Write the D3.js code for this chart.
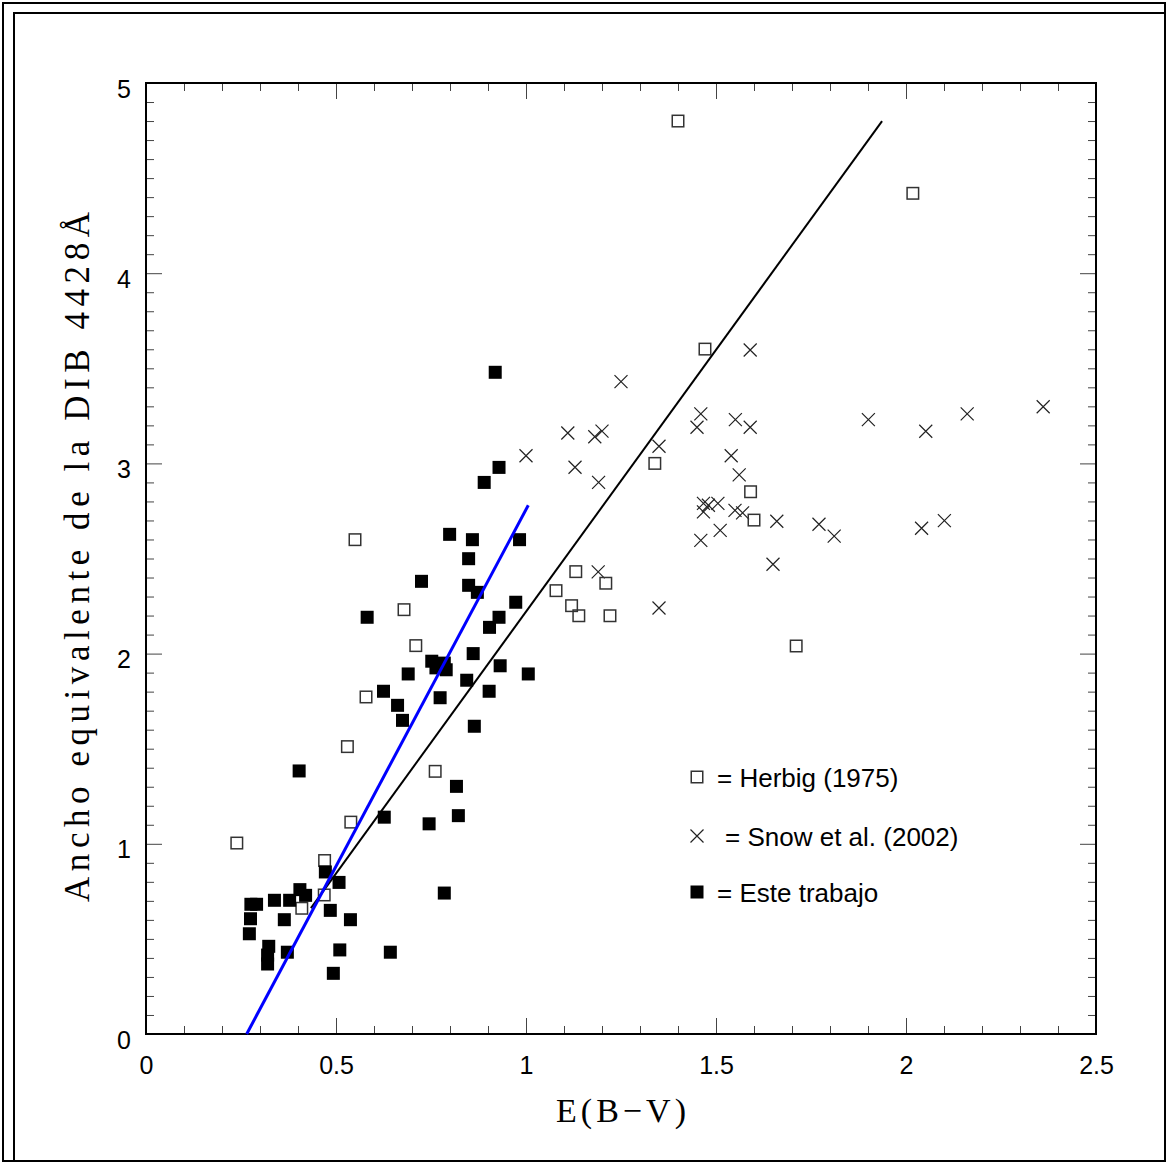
<!DOCTYPE html>
<html><head><meta charset="utf-8">
<script src="https://cdn.jsdelivr.net/npm/d3@7"></script>
<style>body{margin:0;background:#fff}svg{display:block}</style>
</head><body>
<svg id="c" width="1170" height="1163"></svg>
<script>
// ---- data ----
const herbig = [[0.239,1.004],[0.41,0.661],[0.469,0.731],[0.47,0.912],[0.539,1.114],[0.53,1.511],[0.579,1.772],[0.55,2.599],[0.679,2.231],[0.71,2.042],[0.761,1.381],[1.079,2.331],[1.12,2.252],[1.131,2.431],[1.139,2.199],[1.21,2.37],[1.221,2.199],[1.339,3.0],[1.4,4.8],[1.471,3.601],[1.591,2.851],[1.6,2.702],[1.711,2.04],[2.018,4.42]];
const snow = [[1.0,3.04],[1.11,3.16],[1.129,2.98],[1.181,3.14],[1.2,3.17],[1.191,2.9],[1.25,3.43],[1.19,2.43],[1.35,3.09],[1.35,2.24],[1.45,3.19],[1.46,3.26],[1.46,2.595],[1.467,2.79],[1.48,2.78],[1.505,2.79],[1.467,2.745],[1.511,2.648],[1.54,3.04],[1.551,3.23],[1.561,2.94],[1.55,2.753],[1.57,2.74],[1.59,3.19],[1.59,3.596],[1.66,2.696],[1.65,2.47],[1.771,2.68],[1.811,2.618],[1.901,3.23],[2.041,2.659],[2.052,3.169],[2.101,2.699],[2.161,3.26],[2.361,3.298]];
const esteTrabajo = [[0.272,0.527],[0.275,0.606],[0.276,0.682],[0.291,0.682],[0.323,0.461],[0.32,0.415],[0.32,0.368],[0.338,0.703],[0.364,0.601],[0.372,0.43],[0.378,0.703],[0.405,0.759],[0.42,0.729],[0.403,1.383],[0.472,0.852],[0.485,0.65],[0.493,0.319],[0.508,0.797],[0.51,0.442],[0.538,0.601],[0.627,1.14],[0.643,0.43],[0.745,1.105],[0.785,0.741],[0.817,1.302],[0.822,1.148],[0.582,2.191],[0.625,1.802],[0.662,1.728],[0.675,1.649],[0.69,1.893],[0.725,2.38],[0.752,1.96],[0.785,1.95],[0.763,1.925],[0.79,1.915],[0.774,1.768],[0.799,2.627],[0.844,1.86],[0.849,2.499],[0.849,2.359],[0.859,2.599],[0.861,2.0],[0.864,1.618],[0.872,2.322],[0.89,2.9],[0.903,1.802],[0.904,2.138],[0.919,3.479],[0.929,2.979],[0.929,2.191],[0.932,1.936],[0.973,2.27],[0.983,2.599],[1.006,1.893]];
const fitBlue = [[0.265,0],[1.006,2.78]];
const fitBlack = [[0.434,0.662],[1.937,4.8]];
const xTicksMajor = [0,0.5,1,1.5,2,2.5];
const xTickLabels = ["0","0.5","1","1.5","2","2.5"];
const yTicksMajor = [0,1,2,3,4,5];
const yTickLabels = ["0","1","2","3","4","5"];
const legendLabels = ["= Herbig (1975)","= Snow et al. (2002)","= Este trabajo"];
const xTitle = "E(B\u2212V)";
const yTitle = "Ancho equivalente de la DIB 4428\u00C5";

// ---- layout ----
const svg = d3.select("#c");
const L=146, R=1096, T=83, B=1034;
const x = d3.scaleLinear().domain([0,2.5]).range([L,R]);
const y = d3.scaleLinear().domain([0,5]).range([B,T]);

// frame
svg.append("rect").attr("x",3).attr("y",3).attr("width",1162).attr("height",1158)
  .attr("fill","none").attr("stroke","#000").attr("stroke-width",2);
svg.append("path").attr("d","M14,1162V13H1166").attr("fill","none").attr("stroke","#000").attr("stroke-width",2);

const minorX = d3.range(0,26).map(i=>i/10).filter(v=>Math.abs(v*2-Math.round(v*2))>1e-6);
const minorY = d3.range(0,51).map(i=>i/10).filter(v=>Math.abs(v-Math.round(v))>1e-6);
const fontS = "'Liberation Sans', Arial, sans-serif";
const fontT = "'Liberation Serif','DejaVu Serif',serif";

function styleAxis(g){
  g.select(".domain").remove();
  g.selectAll(".tick line").attr("stroke","#444").attr("stroke-width",1);
  g.selectAll(".tick text").attr("font-family",fontS).attr("font-size",25).attr("fill","#000");
}
// bottom
svg.append("g").attr("transform",`translate(0,${B})`)
  .call(d3.axisBottom(x).tickValues(minorX).tickSizeInner(-8).tickSizeOuter(0).tickFormat("")).call(styleAxis);
svg.append("g").attr("transform",`translate(0,${B})`)
  .call(d3.axisBottom(x).tickValues(xTicksMajor).tickSizeInner(-16).tickSizeOuter(0).tickPadding(22)
    .tickFormat((d,i)=>xTickLabels[i])).call(styleAxis);
// top
svg.append("g").attr("transform",`translate(0,${T})`)
  .call(d3.axisTop(x).tickValues(minorX).tickSizeInner(-8).tickSizeOuter(0).tickFormat("")).call(styleAxis);
svg.append("g").attr("transform",`translate(0,${T})`)
  .call(d3.axisTop(x).tickValues(xTicksMajor).tickSizeInner(-16).tickSizeOuter(0).tickFormat("")).call(styleAxis);
// left
svg.append("g").attr("transform",`translate(${L},0)`)
  .call(d3.axisLeft(y).tickValues(minorY).tickSizeInner(-8).tickSizeOuter(0).tickFormat("")).call(styleAxis);
const gl = svg.append("g").attr("transform",`translate(${L},0)`)
  .call(d3.axisLeft(y).tickValues(yTicksMajor).tickSizeInner(-16).tickSizeOuter(0).tickPadding(15)
    .tickFormat((d,i)=>yTickLabels[i])).call(styleAxis);
gl.selectAll(".tick text").attr("dy","0.56em");
// right
svg.append("g").attr("transform",`translate(${R},0)`)
  .call(d3.axisRight(y).tickValues(minorY).tickSizeInner(-8).tickSizeOuter(0).tickFormat("")).call(styleAxis);
svg.append("g").attr("transform",`translate(${R},0)`)
  .call(d3.axisRight(y).tickValues(yTicksMajor).tickSizeInner(-16).tickSizeOuter(0).tickFormat("")).call(styleAxis);

// plot box
svg.append("rect").attr("x",L).attr("y",T).attr("width",R-L).attr("height",B-T)
  .attr("fill","none").attr("stroke","#000").attr("stroke-width",2);

// markers
const S=13;
function openSq(g,cx,cy){ g.append("rect").attr("x",cx-S/2+0.75).attr("y",cy-S/2+0.75).attr("width",S-1.5).attr("height",S-1.5)
  .attr("fill","none").attr("stroke","#333").attr("stroke-width",1.5); }
function fillSq(g,cx,cy){ g.append("rect").attr("x",cx-S/2).attr("y",cy-S/2).attr("width",S).attr("height",S).attr("fill","#000"); }
function cross(g,cx,cy){ const h=6.5; g.append("path").attr("d",`M${cx-h},${cy-h}L${cx+h},${cy+h}M${cx-h},${cy+h}L${cx+h},${cy-h}`)
  .attr("stroke","#222").attr("stroke-width",1.2).attr("fill","none"); }

const gp = svg.append("g");
snow.forEach(d=>cross(gp,x(d[0]),y(d[1])));
herbig.forEach(d=>openSq(gp,x(d[0]),y(d[1])));
esteTrabajo.forEach(d=>fillSq(gp,x(d[0]),y(d[1])));

// fit lines
const line = d3.line().x(d=>x(d[0])).y(d=>y(d[1]));
svg.append("path").datum(fitBlack).attr("d",line).attr("stroke","#000").attr("stroke-width",2).attr("fill","none");
svg.append("path").datum(fitBlue).attr("d",line).attr("stroke","#0000ff").attr("stroke-width",3).attr("fill","none");

// legend
const lg = svg.append("g");
const lx=697, ly=[777,836,892];
openSq(lg,lx,ly[0]); cross(lg,lx,ly[1]); fillSq(lg,lx,ly[2]);
const ltx=[717,725,717];
legendLabels.forEach((t,i)=>lg.append("text").attr("x",ltx[i]).attr("y",ly[i]+10).text(t)
  .attr("font-family",fontS).attr("font-size",26).attr("fill","#000"));

// titles
svg.append("text").attr("x",621).attr("y",1122).attr("text-anchor","middle")
  .attr("font-family",fontT).attr("font-size",34).attr("textLength",130).attr("lengthAdjust","spacing").text(xTitle);
svg.append("text").attr("transform","translate(89,557) rotate(-90)").attr("text-anchor","middle")
  .attr("font-family",fontT).attr("font-size",35)
  .attr("textLength",690).attr("lengthAdjust","spacing").text(yTitle);
</script>
</body></html>
